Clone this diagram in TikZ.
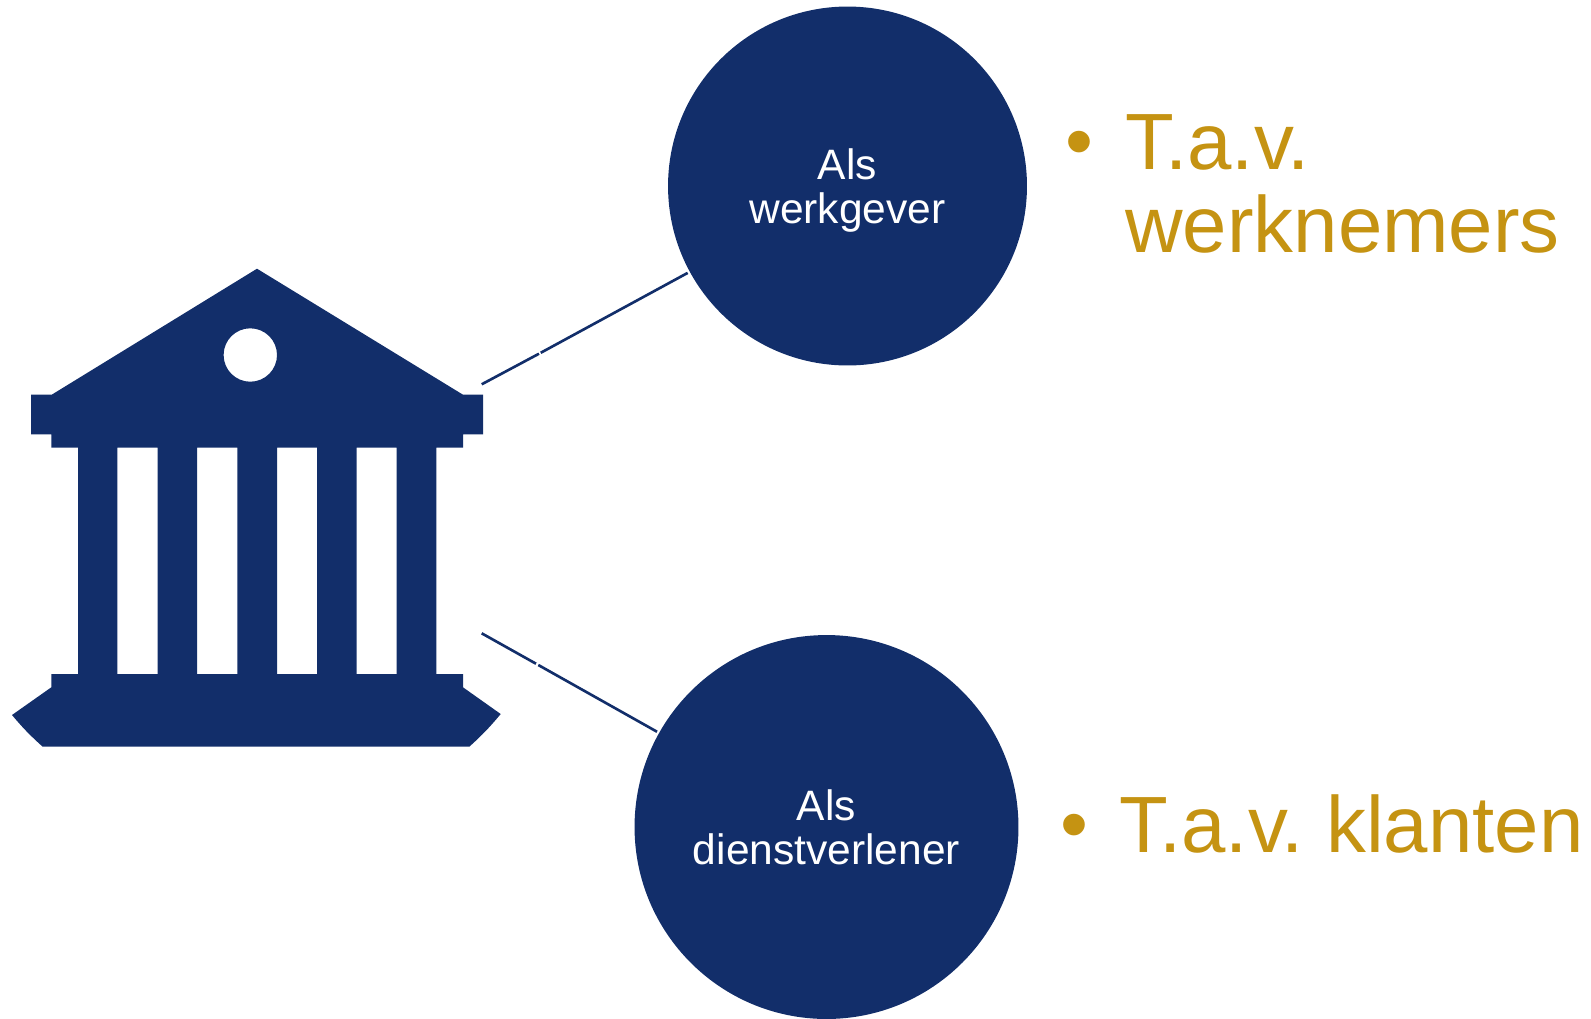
\documentclass[tikz,border=0pt]{standalone}
\usepackage{fontspec}
\setmainfont{Liberation Sans}
\definecolor{navy}{RGB}{18,46,106}
\definecolor{gold}{RGB}{197,147,18}
\tikzset{
  rolecircle/.style={circle,fill=navy,inner sep=0pt,text=white,text depth=0pt,align=center,font=\fontsize{24.2}{25.3}\selectfont},
  roleline/.style={draw=navy,line width=1.5pt},
  targettext/.style={anchor=base west,inner sep=0pt,text=gold,align=left,font=\fontsize{45.4}{47.4}\selectfont}
}

\begin{document}
\begin{tikzpicture}[x=0.02cm,y=-0.02cm]
  \useasboundingbox (0,0) rectangle (1591,1018);

  \fill[navy,even odd rule] (257,268.7) -- (51.7,394.7) -- (31,394.7) -- (31,434.3) -- (51.3,434.3) -- (51.3,447.7)
    -- (78,447.7) -- (78,674) -- (51.3,674) -- (51.3,687.3) -- (12,715) to[bend right=4] (42.7,746.7)
    -- (469.3,746.7) to[bend right=4] (500.7,714) -- (463,687.3) -- (463,674) -- (436.3,674) -- (436.3,447.7)
    -- (463,447.7) -- (463,434.3) -- (483,434.3) -- (483,394.7) -- (463,394.7) -- cycle
    (117.3,447.7) rectangle (157.7,674)
    (197,447.7) rectangle (237.3,674)
    (277,447.7) rectangle (317,674)
    (356.7,447.7) rectangle (396.7,674)
    (250.3,355) circle [radius=26.7];

  \node[rolecircle,minimum size=7.18cm] (werkgever) at (847.5,186) {Als\\werkgever};
  \node[rolecircle,minimum size=7.68cm] (dienstverlener) at (826.5,827) {Als\\dienstverlener};

  \coordinate (top1) at (481.7,384.3);
  \coordinate (top2) at (539,353.7);
  \coordinate (top3) at (540.7,352.8);
  \coordinate (bottom1) at (481.7,633.3);
  \coordinate (bottom2) at (536,663.7);
  \coordinate (bottom3) at (538.3,665);

  \draw[roleline] (top1) -- (top2);
  \draw[roleline,shorten >=1.2pt] (top3) -- (werkgever);
  \draw[roleline] (bottom1) -- (bottom2);
  \draw[roleline,shorten >=1.2pt] (bottom3) -- (dienstverlener);

  \node[targettext] (bullet1) at (1065,168.8) {\textbullet};
  \node[targettext] (werknemers) at (1125,252.6) {T.a.v.\\werknemers};
  \node[targettext] (bullet2) at (1060,851) {\textbullet};
  \node[targettext] (klanten) at (1119,852) {T.a.v.\ klanten};
\end{tikzpicture}
\end{document}
